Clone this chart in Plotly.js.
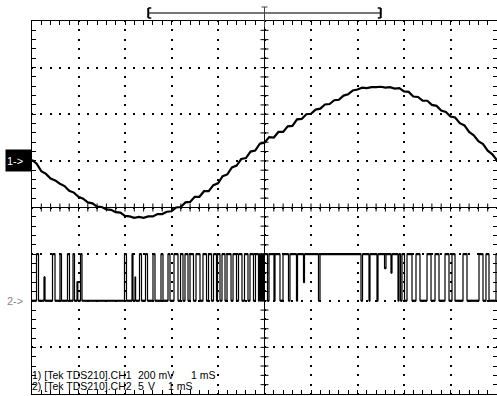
<!DOCTYPE html>
<html><head><meta charset="utf-8">
<script src="https://cdn.plot.ly/plotly-3.0.1.min.js"></script>
<style>html,body{margin:0;padding:0;background:#fff;overflow:hidden}</style>
</head><body><div id="chart" style="width:497px;height:396px"></div>
<script>
// ---- CH1 (200 mV/div, marker at +1 div) ----
const ch1TimeMs = [0,0.1,0.2,0.3,0.4,0.5,0.6,0.7,0.8,0.9,1,1.1,1.2,1.3,1.4,1.5,1.6,1.7,1.8,1.9,2,2.1,2.2,2.3,2.4,2.5,2.6,2.7,2.8,2.9,3,3.1,3.2,3.3,3.4,3.5,3.6,3.7,3.8,3.9,4,4.1,4.2,4.3,4.4,4.5,4.6,4.7,4.8,4.9,5,5.1,5.2,5.3,5.4,5.5,5.6,5.7,5.8,5.9,6,6.1,6.2,6.3,6.4,6.5,6.6,6.7,6.8,6.9,7,7.1,7.2,7.3,7.4,7.5,7.6,7.7,7.8,7.9,8,8.1,8.2,8.3,8.4,8.5,8.6,8.7,8.8,8.9,9,9.1,9.2,9.3,9.4,9.5,9.6,9.7,9.8,9.9,10];
const ch1mV = [4,-12,-44,-56,-76,-84,-98,-108,-128,-136,-154,-162,-178,-182,-196,-198,-208,-210,-220,-222,-236,-238,-244,-240,-244,-238,-238,-228,-228,-218,-216,-200,-198,-178,-176,-154,-154,-130,-130,-104,-96,-66,-58,-28,-20,8,12,40,44,74,78,102,100,124,124,148,150,178,180,200,202,220,224,242,244,260,262,280,286,302,306,314,312,316,316,318,314,316,310,312,298,296,276,274,258,258,240,236,216,210,190,186,162,152,124,110,84,72,44,28,2];

// ---- CH2 (5 V/div, marker at -2 div): edge times and level after each edge ----
const ch2TimeMs = [0,
 0.097,0.140, 0.258,0.280, 0.441,0.495, 0.602,0.634, 0.763,0.806, 0.882,0.914, 0.968,0.985, 1.043,1.075,
 1.989,2.032, 2.151,2.172, 2.215,2.228, 2.312,2.355, 2.441,2.484, 2.602,2.645, 2.774,2.817, 2.925,2.968,
 3.054,3.140, 3.194,3.247, 3.290,3.355, 3.398,3.473, 3.527,3.613, 3.677,3.753, 3.796,3.860, 3.903,3.968,
 3.989,4.043, 4.086,4.151, 4.194,4.280, 4.323,4.398, 4.441,4.516, 4.570,4.645, 4.688,4.763, 4.806,4.871,
 4.892,4.910, 4.925,4.942, 4.957,4.965,
 4.978,
 5.065,5.097, 5.204,5.226, 5.333,5.398, 5.516,5.548, 5.688,5.710, 5.839,5.860, 6.161,6.194,
 7.075,7.108, 7.247,7.269, 7.419,7.441, 7.581,7.613, 7.720,7.742, 7.871,7.892, 7.925,7.957,
 8.011,8.065, 8.172,8.258, 8.344,8.495, 8.581,8.667, 8.753,8.882, 8.968,9.032, 9.097,9.269, 9.355,9.613, 9.699,9.763, 9.828,9.978,
 10];
const ch2Volts = [0,
 5,0, 2.5,0, 5,0, 5,0, 5,0, 5,0, 2,0, 5,0,
 5,0, 5,0, 2.5,0, 5,0, 5,0, 5,0, 5,0, 5,0,
 5,0, 5,0, 5,0, 5,0, 5,0, 5,0, 5,0, 5,0,
 5,0, 5,0, 5,0, 5,0, 5,0, 5,0, 5,0, 5,0,
 5,0, 5,0, 5,0,
 5,
 0,5, 0,5, 0,5, 0,5, 0,5, 2,5, 0,5,
 0,5, 0,5, 0,5, 3.5,5, 3,5, 0,5, 0,5,
 0,5, 0,5, 0,5, 0,5, 0,5, 0,5, 0,5, 0,5, 0,5, 0,5,
 5];

// ---- text ----
const ch1MarkerText = '1->';
const ch2MarkerText = '2->';
const infoLine1 = ['1) [Tek TDS210].CH1', '200 mV', '1 mS'];
const infoLine2 = ['2) [Tek TDS210].CH2', '5', 'V', '1 mS'];

// scope settings
const ch1mVPerDiv = 200, ch1OffsetDiv = 1;
const ch2VPerDiv = 5, ch2OffsetDiv = -2;
const msPerDiv = 1, nDivX = 10, nDivY = 8;

const W = 497, H = 396, ML = 32, MR = 0, MT = 21, MB = 2;
const PW = W - ML - MR, PH = H - MT - MB;
const pxX = PW / nDivX, pxY = PH / nDivY;
const px2paperX = p => (p - ML) / PW;
const px2paperY = p => (H - MB - p) / PH;

const ch2Div = ch2Volts.map(v => v / ch2VPerDiv + ch2OffsetDiv);
// horizontal runs of the CH2 staircase (drawn heavier, like the scope's dots)
const runX = [], runY = [];
for (let i = 0; i < ch2TimeMs.length - 1; i++) {
  runX.push(ch2TimeMs[i], ch2TimeMs[i + 1], null);
  runY.push(ch2Div[i], ch2Div[i], null);
}

const traces = [
  {x: ch1TimeMs, y: ch1mV.map(v => v / ch1mVPerDiv + ch1OffsetDiv), type: 'scatter', mode: 'lines',
   line: {color: '#000', width: 2.2, simplify: false}, hoverinfo: 'skip', showlegend: false},
  {x: ch2TimeMs, y: ch2Div, type: 'scatter', mode: 'lines',
   line: {color: '#000', width: 1.2, shape: 'hv', simplify: false}, hoverinfo: 'skip', showlegend: false},
  {x: runX, y: runY, type: 'scatter', mode: 'lines', connectgaps: false,
   line: {color: '#000', width: 2.2, simplify: false}, hoverinfo: 'skip', showlegend: false}
];

const dashX = '1px,' + (pxY / 5 - 2).toFixed(3) + 'px,1px,0px'; // dots along vertical gridlines
const dashY = '1px,' + (pxX / 5 - 2).toFixed(3) + 'px,1px,0px'; // dots along horizontal gridlines

const shapes = [];
const cx = nDivX * msPerDiv / 2;
shapes.push({type: 'line', xref: 'x', yref: 'y', x0: cx, x1: cx, y0: -nDivY/2, y1: nDivY/2, line: {color: '#000', width: 1}});
shapes.push({type: 'line', xref: 'x', yref: 'y', x0: 0, x1: nDivX * msPerDiv, y0: 0, y1: 0, line: {color: '#000', width: 1}});
const tX = 4 / pxX, tY = 4 / pxY;
for (let k = 1; k < nDivX * 5; k++) {
  const x = k * 0.2 * msPerDiv;
  shapes.push({type: 'line', xref: 'x', yref: 'y', x0: x, x1: x, y0: -tY, y1: tY, line: {color: '#000', width: 1}});
}
for (let k = 1; k < nDivY * 5; k++) {
  const y = -nDivY/2 + k * 0.2;
  shapes.push({type: 'line', xref: 'x', yref: 'y', x0: cx - tX, x1: cx + tX, y0: y, y1: y, line: {color: '#000', width: 1}});
}
// trigger / record bracket in top margin
const bL = cx - 2.5 * msPerDiv, bR = cx + 2.5 * msPerDiv;
const yb = px2paperY(13), yTop = px2paperY(8), yBot = px2paperY(18);
shapes.push({type: 'line', xref: 'x', yref: 'paper', x0: bL, x1: bR, y0: yb, y1: yb, line: {color: '#777', width: 2}});
shapes.push({type: 'line', xref: 'x', yref: 'paper', x0: bL, x1: bL, y0: yBot, y1: yTop, line: {color: '#000', width: 2}});
shapes.push({type: 'line', xref: 'x', yref: 'paper', x0: bL, x1: bL + 3/pxX, y0: yTop, y1: yTop, line: {color: '#000', width: 1.5}});
shapes.push({type: 'line', xref: 'x', yref: 'paper', x0: bL, x1: bL + 3/pxX, y0: yBot, y1: yBot, line: {color: '#000', width: 1.5}});
shapes.push({type: 'line', xref: 'x', yref: 'paper', x0: bR, x1: bR, y0: yBot, y1: yTop, line: {color: '#000', width: 2}});
shapes.push({type: 'line', xref: 'x', yref: 'paper', x0: bR - 3/pxX, x1: bR, y0: yTop, y1: yTop, line: {color: '#000', width: 1.5}});
shapes.push({type: 'line', xref: 'x', yref: 'paper', x0: bR - 3/pxX, x1: bR, y0: yBot, y1: yBot, line: {color: '#000', width: 1.5}});
shapes.push({type: 'line', xref: 'x', yref: 'paper', x0: cx, x1: cx, y0: px2paperY(27), y1: px2paperY(7), line: {color: '#444', width: 1}});
shapes.push({type: 'line', xref: 'x', yref: 'paper', x0: cx - 3/pxX, x1: cx + 3/pxX, y0: px2paperY(7), y1: px2paperY(7), line: {color: '#444', width: 1}});

const fontFam = 'Liberation Sans, Arial, sans-serif';
const annotations = [
  {xref: 'x', yref: 'y', x: 0, y: ch1OffsetDiv, xanchor: 'right', yanchor: 'middle', text: ch1MarkerText,
   showarrow: false, bgcolor: '#000', width: 23, height: 19, borderpad: 1, align: 'left',
   font: {family: fontFam, size: 11, color: '#fff'}},
  {xref: 'x', yref: 'y', x: 0, y: ch2OffsetDiv, xanchor: 'right', yanchor: 'middle', text: ch2MarkerText,
   showarrow: false, width: 23, height: 19, borderpad: 1, align: 'left',
   font: {family: fontFam, size: 11, color: '#888'}}
];
const line1X = [31, 137, 190], line2X = [31, 137, 147, 167];
infoLine1.forEach((t, i) => annotations.push({xref: 'paper', yref: 'paper', x: px2paperX(line1X[i]), y: px2paperY(374.5),
  xanchor: 'left', yanchor: 'middle', text: t, showarrow: false, borderpad: 0, font: {family: fontFam, size: 10.5, color: '#000'}}));
infoLine2.forEach((t, i) => annotations.push({xref: 'paper', yref: 'paper', x: px2paperX(line2X[i]), y: px2paperY(386),
  xanchor: 'left', yanchor: 'middle', text: t, showarrow: false, borderpad: 0, font: {family: fontFam, size: 10.5, color: '#000'}}));

const axisCommon = {
  showline: true, linecolor: '#000', linewidth: 1, mirror: 'ticks',
  ticks: 'inside', ticklen: 4, tickwidth: 1, tickcolor: '#000', showticklabels: false,
  zeroline: false, showgrid: true, gridcolor: '#000', gridwidth: 2, fixedrange: true
};
const layout = {
  width: W, height: H,
  margin: {l: ML, r: MR, t: MT, b: MB, pad: 0},
  paper_bgcolor: '#fff', plot_bgcolor: '#fff',
  showlegend: false,
  xaxis: Object.assign({}, axisCommon, {range: [0, nDivX * msPerDiv], tick0: 0, dtick: msPerDiv, griddash: dashX,
    minor: {dtick: 0.2 * msPerDiv, ticks: 'inside', ticklen: 4, tickcolor: '#000', showgrid: false}}),
  yaxis: Object.assign({}, axisCommon, {range: [-nDivY/2, nDivY/2], tick0: 0, dtick: 1, griddash: dashY,
    minor: {dtick: 0.2, ticks: 'inside', ticklen: 4, tickcolor: '#000', showgrid: false}}),
  shapes: shapes,
  annotations: annotations,
  font: {family: fontFam}
};
Plotly.newPlot('chart', traces, layout, {staticPlot: true, displayModeBar: false});
</script></body></html>
